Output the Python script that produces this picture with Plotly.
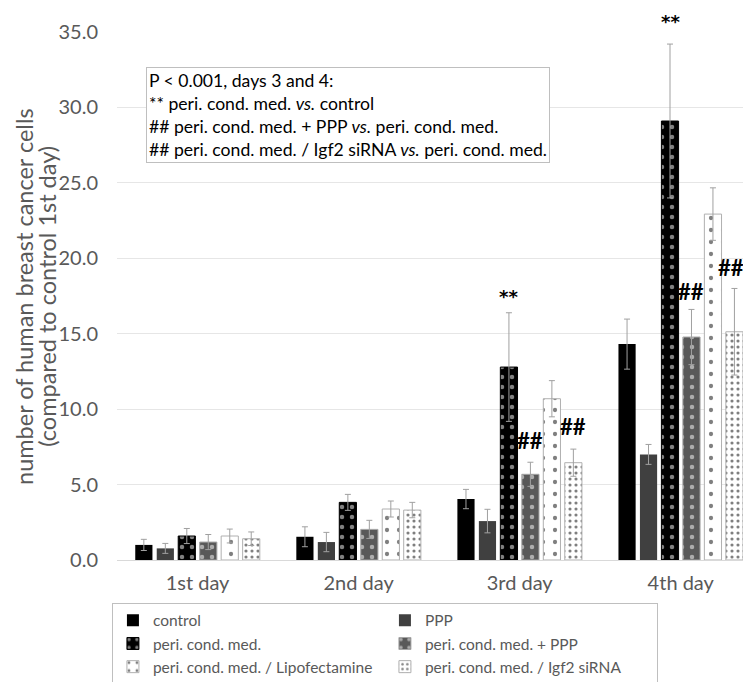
import plotly.graph_objects as go

days = ["1st day", "2nd day", "3rd day", "4th day"]
series_names = [
    "control",
    "PPP",
    "peri. cond. med.",
    "peri. cond. med. + PPP",
    "peri. cond. med. / Lipofectamine",
    "peri. cond. med. / Igf2 siRNA",
]
control = [1.0, 1.54, 4.04, 14.31]
ppp = [0.77, 1.19, 2.58, 7.0]
pcm = [1.59, 3.82, 12.79, 29.1]
pcm_ppp = [1.19, 2.03, 5.68, 14.78]
pcm_lipo = [1.59, 3.38, 10.69, 22.93]
pcm_igf2 = [1.41, 3.31, 6.45, 15.13]

err_control = [0.37, 0.66, 0.64, 1.66]
err_ppp = [0.33, 0.64, 0.78, 0.66]
err_pcm = [0.5, 0.53, 3.6, 5.1]
err_pcm_ppp = [0.5, 0.6, 0.8, 1.83]
err_pcm_lipo = [0.46, 0.53, 1.2, 1.74]
err_pcm_igf2 = [0.45, 0.51, 0.9, 2.87]

y_max = 35
y_ticks = [0, 5, 10, 15, 20, 25, 30, 35]
y_tick_labels = ["0.0", "5.0", "10.0", "15.0", "20.0", "25.0", "30.0", "35.0"]

values = [control, ppp, pcm, pcm_ppp, pcm_lipo, pcm_igf2]
errors = [err_control, err_ppp, err_pcm, err_pcm_ppp, err_pcm_lipo, err_pcm_igf2]

styles = [
    dict(color="#000000", pattern=dict(shape=""), line=dict(color="#000000", width=0)),
    dict(color="#404040", pattern=dict(shape=""), line=dict(color="#404040", width=0)),
    dict(color="#000000", pattern=dict(shape=".", fgcolor="#ffffff", bgcolor="#000000", size=10, solidity=0.16, fillmode="overlay"), line=dict(color="#000000", width=1)),
    dict(color="#595959", pattern=dict(shape=".", fgcolor="#ffffff", bgcolor="#595959", size=10, solidity=0.16, fillmode="overlay"), line=dict(color="#a6a6a6", width=1)),
    dict(color="#ffffff", pattern=dict(shape=".", fgcolor="#000000", bgcolor="#ffffff", size=12, solidity=0.1, fillmode="overlay"), line=dict(color="#b0b0b0", width=1)),
    dict(color="#ffffff", pattern=dict(shape=".", fgcolor="#000000", bgcolor="#ffffff", size=6, solidity=0.22, fillmode="overlay"), line=dict(color="#b0b0b0", width=1)),
]

FONT = "Lato"
GREY = "#595959"

fig = go.Figure()
for name, vals, errs, st in zip(series_names, values, errors, styles):
    fig.add_trace(go.Bar(
        name=name, x=days, y=vals,
        marker=st,
        error_y=dict(type="data", array=errs, symmetric=True, color="#a0a0a0", thickness=1, width=3),
    ))

bargap = 0.2
n = len(series_names)
def pos(day_idx, series_idx):
    return day_idx + (series_idx - (n - 1) / 2) * (1 - bargap) / n

annotations = []
star_marks = [(2, 2, 17.5), (3, 2, 35.7)]
hash_marks = [(2, 3, 7.9, 0), (2, 5, 8.85, 0), (3, 3, 17.8, 0), (3, 5, 19.4, -3)]
for d, s, yv in star_marks:
    annotations.append(dict(x=pos(d, s), y=yv / y_max, xref="x", yref="paper", text="<b>**</b>", showarrow=False,
                            font=dict(family="DejaVu Sans", size=18, color="#000000"), yanchor="middle"))
for d, s, yv, xs in hash_marks:
    annotations.append(dict(x=pos(d, s), y=yv, xref="x", yref="y", text="<b>##</b>", showarrow=False,
                            xshift=xs, font=dict(family=FONT, size=22, color="#000000"), yanchor="middle"))

box_text = ("P &lt; 0.001, days 3 and 4:<br>"
            "** peri. cond. med. <i>vs.</i> control<br>"
            "## peri. cond. med. + PPP <i>vs.</i> peri. cond. med.<br>"
            "## peri. cond. med. / Igf2 siRNA <i>vs.</i> peri. cond. med.")
annotations.append(dict(x=0.0458, y=0.933, xref="paper", yref="paper", xanchor="left", yanchor="top",
                        text=box_text, align="left", showarrow=False,
                        font=dict(family=FONT, size=17.6, color="#000000"),
                        bordercolor="#bfbfbf", borderwidth=1, borderpad=2, bgcolor="#ffffff"))

# y-axis title (two lines, tight spacing)
annotations.append(dict(x=-0.147, y=0.5, xref="paper", yref="paper", textangle=-90, xanchor="center",
                        yanchor="middle", text="number of human breast cancer cells", showarrow=False,
                        font=dict(family=FONT, size=23.5, color=GREY)))
annotations.append(dict(x=-0.111, y=0.5, xref="paper", yref="paper", textangle=-90, xanchor="center",
                        yanchor="middle", text="(compared to control 1st day)", showarrow=False,
                        font=dict(family=FONT, size=23.5, color=GREY)))

fig.update_layout(
    width=743, height=674,
    margin=dict(l=109, r=1, t=23.5, b=122, autoexpand=False),
    paper_bgcolor="#ffffff", plot_bgcolor="#ffffff",
    barmode="group", bargap=bargap, bargroupgap=0.2,
    font=dict(family=FONT, color=GREY),
    showlegend=True,
    legend=dict(orientation="h", x=-0.008, y=-0.081, xanchor="left", yanchor="top",
                entrywidth=227, entrywidthmode="pixels",
                bordercolor="#bfbfbf", borderwidth=1, bgcolor="#ffffff",
                font=dict(family=FONT, size=15.5, color=GREY), tracegroupgap=0, itemwidth=30),
    annotations=annotations,
)
fig.update_xaxes(type="category", range=[-0.5, 3.43], showline=True, linecolor="#d9d9d9", linewidth=1,
                 ticks="", ticklabelstandoff=5, tickfont=dict(family=FONT, size=20, color=GREY),
                 showgrid=False, automargin=False)
fig.update_yaxes(range=[0, y_max], tickvals=y_ticks, ticktext=y_tick_labels, showgrid=True, gridcolor="#e6e6e6",
                 gridwidth=1, zeroline=False, showline=False, ticks="", ticklabelstandoff=18,
                 tickfont=dict(family=FONT, size=20, color=GREY), automargin=False)

fig.write_html("out.html")
